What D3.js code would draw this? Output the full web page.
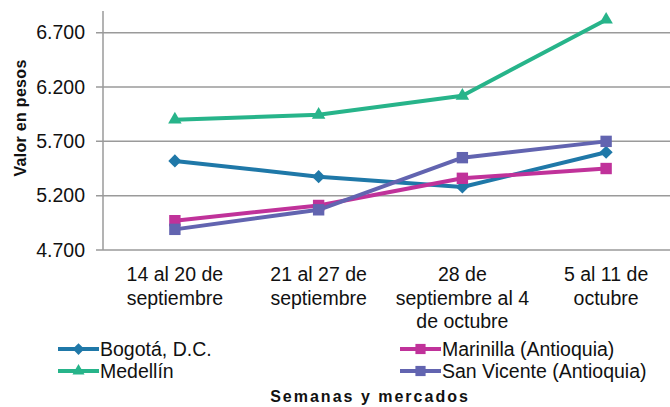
<!DOCTYPE html>
<html>
<head>
<meta charset="utf-8">
<script src="https://cdn.jsdelivr.net/npm/d3@7"></script>
<style>
  body { margin: 0; background: #fff; }
  svg { font-family: "Liberation Sans", Arial, sans-serif; }
</style>
</head>
<body>
<svg id="chart" width="670" height="407"></svg>
<script>
// data
const semanas = [
  ["14 al 20 de", "septiembre"],
  ["21 al 27 de", "septiembre"],
  ["28 de", "septiembre al 4", "de octubre"],
  ["5 al 11 de", "octubre"]
];
const bogota = [5520, 5375, 5280, 5600];
const medellin = [5900, 5945, 6120, 6820];
const marinilla = [4970, 5110, 5360, 5450];
const sanVicente = [4890, 5070, 5550, 5700];
const yTicks = [4700, 5200, 5700, 6200, 6700];

const series = [
  { name: "Bogotá, D.C.", values: bogota, color: "#1f78a8", symbol: d3.symbolDiamond2, size: 110 },
  { name: "Medellín", values: medellin, color: "#27b48a", symbol: d3.symbolTriangle2, size: 130 },
  { name: "Marinilla (Antioquia)", values: marinilla, color: "#c0329a", symbol: d3.symbolSquare2, size: 165 },
  { name: "San Vicente (Antioquia)", values: sanVicente, color: "#6264b0", symbol: d3.symbolSquare2, size: 165 }
];

const svg = d3.select("#chart");
const mLeft = 103, mTop = 11, mBottom = 250;
const mRight = 678;
const fs = "19.5px";

const x = d3.scaleBand().domain(d3.range(semanas.length)).range([mLeft, mRight]);
const y = d3.scaleLinear().domain([4700, 6900]).range([mBottom, mTop]);

// gridlines
svg.append("g")
  .selectAll("line")
  .data(yTicks)
  .enter()
  .append("line")
  .attr("x1", mLeft - 7)
  .attr("x2", 670)
  .attr("y1", (d) => y(d))
  .attr("y2", (d) => y(d))
  .attr("stroke", "#9a9a9a")
  .attr("stroke-width", 1.5);

svg.append("line")
  .attr("x1", mLeft).attr("x2", mLeft)
  .attr("y1", mTop).attr("y2", mBottom)
  .attr("stroke", "#9a9a9a")
  .attr("stroke-width", 1.5);

// y tick labels
svg.append("g")
  .selectAll("text")
  .data(yTicks)
  .enter()
  .append("text")
  .attr("x", 85)
  .attr("y", (d) => y(d) + 6.5)
  .attr("text-anchor", "end")
  .style("font-size", fs)
  .attr("fill", "#111")
  .text((d) => d3.format(",")(d).replace(",", "."));

// y title
svg.append("text")
  .attr("transform", "translate(26,118) rotate(-90)")
  .attr("text-anchor", "middle")
  .style("font-size", "16px")
  .style("font-weight", "bold")
  .style("letter-spacing", "0.3px")
  .attr("fill", "#111")
  .text("Valor en pesos");

// x labels
const xl = svg.append("g")
  .selectAll("text")
  .data(semanas)
  .enter()
  .append("text")
  .attr("text-anchor", "middle")
  .style("font-size", fs)
  .attr("fill", "#111");
xl.each(function(lines, i) {
  const t = d3.select(this);
  lines.forEach((l, j) => {
    t.append("tspan")
      .attr("x", x(i) + x.bandwidth() / 2)
      .attr("y", 281 + j * 23.5)
      .text(l);
  });
});

// lines and markers
const line = d3.line()
  .x((d, i) => x(i) + x.bandwidth() / 2)
  .y((d) => y(d));

series.forEach((s) => {
  svg.append("path")
    .attr("d", line(s.values))
    .attr("fill", "none")
    .attr("stroke", s.color)
    .attr("stroke-width", 4)
    .attr("stroke-linejoin", "round");
  svg.append("g")
    .selectAll("path")
    .data(s.values)
    .enter()
    .append("path")
    .attr("d", d3.symbol().type(s.symbol).size(s.size))
    .attr("transform", (d, i) => `translate(${x(i) + x.bandwidth() / 2},${y(d)})`)
    .attr("fill", s.color);
});

// legend
const legendPos = [[58, 349], [58, 371], [400, 349], [400, 371]];
series.forEach((s, n) => {
  const [lx, ly] = legendPos[n];
  svg.append("line")
    .attr("x1", lx).attr("x2", lx + 41)
    .attr("y1", ly).attr("y2", ly)
    .attr("stroke", s.color)
    .attr("stroke-width", 4);
  svg.append("path")
    .attr("d", d3.symbol().type(s.symbol).size(s.size * 0.8))
    .attr("transform", `translate(${lx + 20.5},${ly})`)
    .attr("fill", s.color);
  svg.append("text")
    .attr("x", lx + 42)
    .attr("y", ly + 7)
    .style("font-size", fs)
    .attr("fill", "#111")
    .text(s.name);
});

// x title
svg.append("text")
  .attr("x", 370)
  .attr("y", 402)
  .attr("text-anchor", "middle")
  .style("font-size", "16px")
  .style("font-weight", "bold")
  .style("letter-spacing", "2px")
  .attr("fill", "#111")
  .text("Semanas y mercados");
</script>
</body>
</html>
